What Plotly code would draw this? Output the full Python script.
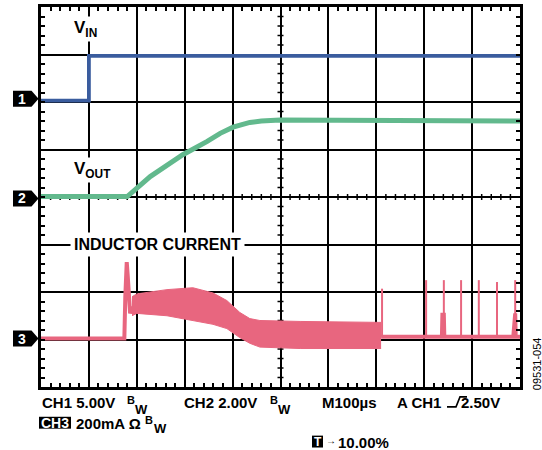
import plotly.graph_objects as go

# ---------------- data (time in divisions, amplitude in divisions) ----------------
VIN_t = [0, 1.0, 1.0, 10]
VIN_v = [6.03, 6.03, 6.97, 6.97]

VOUT_t = [0, 1.80, 2.28, 2.96, 3.47, 3.74, 4.01, 4.20, 4.36, 4.60, 4.99, 10]
VOUT_v = [4.01, 4.01, 4.43, 4.89, 5.17, 5.34, 5.47, 5.53, 5.57, 5.60, 5.62, 5.60]

IL_pre_t = [0, 1.74, 1.76, 1.79, 1.81, 1.83, 1.86, 1.90]
IL_pre_v = [1.02, 1.02, 1.90, 2.63, 2.35, 1.85, 1.55, 1.70]

IL_band_t = [1.90, 2.00, 2.63, 3.17, 3.59, 3.88, 4.15, 4.36, 4.57, 5.41, 7.10]
IL_band_hi = [1.90, 1.96, 2.05, 2.09, 1.98, 1.82, 1.57, 1.44, 1.40, 1.38, 1.36]
IL_band_lo = [1.50, 1.55, 1.50, 1.40, 1.32, 1.23, 1.04, 0.92, 0.84, 0.81, 0.81]

IL_post_t = [7.10, 8.37, 8.38, 8.41, 8.42, 9.86, 9.90, 9.91, 10]
IL_post_v = [1.06, 1.06, 1.52, 1.52, 1.06, 1.06, 1.55, 1.06, 1.06]

SPIKE_t = [7.12, 8.04, 8.41, 8.77, 9.14, 9.52, 9.90]
SPIKE_peak = [2.07, 2.25, 2.25, 2.25, 2.25, 2.21, 2.25]
SPIKE_base = 1.06

MARKER_lvl = {"1": 6.07, "2": 3.97, "3": 1.02}

BLUE = "#3A5C9E"
GREEN = "#62B98D"
PINK = "#E8667F"
FONT = "Liberation Sans, Arial, sans-serif"

# plot area in pixels
L, R, T, B = 41, 520, 4, 387
W_PX, H_PX = R - L, B - T


def px(x):
    return (x - L) / W_PX


def py(y):
    return (B - y) / H_PX


fig = go.Figure()

fig.add_trace(go.Scatter(x=VIN_t, y=VIN_v, mode="lines",
                         line=dict(color=BLUE, width=3.8), hoverinfo="skip"))
fig.add_trace(go.Scatter(x=VOUT_t, y=VOUT_v, mode="lines",
                         line=dict(color=GREEN, width=5), hoverinfo="skip"))
fig.add_trace(go.Scatter(x=IL_band_t, y=IL_band_lo, mode="lines",
                         line=dict(color=PINK, width=1), hoverinfo="skip"))
fig.add_trace(go.Scatter(x=IL_band_t, y=IL_band_hi, mode="lines", fill="tonexty",
                         fillcolor=PINK, line=dict(color=PINK, width=1),
                         hoverinfo="skip"))
fig.add_trace(go.Scatter(x=IL_pre_t + [None] + IL_post_t, y=IL_pre_v + [None] + IL_post_v,
                         mode="lines", line=dict(color=PINK, width=4), hoverinfo="skip"))
sx, sy = [], []
for t, p in zip(SPIKE_t, SPIKE_peak):
    sx += [t, t, None]
    sy += [SPIKE_base, p, None]
fig.add_trace(go.Scatter(x=sx, y=sy, mode="lines", line=dict(color=PINK, width=2),
                         hoverinfo="skip"))

axis_common = dict(
    showgrid=True, gridcolor="black", gridwidth=1.6, dtick=1, tick0=0,
    showticklabels=False, zeroline=False, showline=True, linecolor="black",
    linewidth=2.5, mirror="allticks", ticks="inside", ticklen=4, tickwidth=1.5,
    tickcolor="black",
    minor=dict(dtick=0.2, ticks="inside", ticklen=4, tickwidth=1.5, tickcolor="black",
               showgrid=False),
)
fig.update_xaxes(range=[0, 10], **axis_common)
fig.update_yaxes(range=[0, 8], **axis_common)

shapes = []
# centre cross minor ticks
for i in range(51):
    if i % 5:
        x = i * 0.2
        shapes.append(dict(type="line", xref="x", yref="y", ysizemode="pixel", yanchor=4,
                           x0=x, x1=x, y0=-3, y1=3, line=dict(color="black", width=1.5),
                           layer="between"))
for i in range(41):
    if i % 5:
        y = i * 0.2
        shapes.append(dict(type="line", xref="x", yref="y", xsizemode="pixel", xanchor=5,
                           x0=-3, x1=3, y0=y, y1=y, line=dict(color="black", width=1.5),
                           layer="between"))
# channel markers
for k, lvl in MARKER_lvl.items():
    shapes.append(dict(type="path", xref="paper", yref="y", xsizemode="pixel", xanchor=0,
                       ysizemode="pixel", yanchor=lvl,
                       path="M-28,-8 L-9.5,-8 L-2.5,0 L-9.5,8 L-28,8 Z",
                       fillcolor="black", line=dict(width=0)))
# CH3 and T boxes
shapes.append(dict(type="rect", xref="paper", yref="paper", x0=px(39), x1=px(71),
                   y0=py(429), y1=py(417), fillcolor="black", line=dict(width=0)))
shapes.append(dict(type="rect", xref="paper", yref="paper", x0=px(312), x1=px(323),
                   y0=py(448), y1=py(436), fillcolor="black", line=dict(width=0)))
# trigger edge symbol
shapes.append(dict(type="path", xref="paper", yref="paper",
                   path=f"M{px(447)},{py(407)} L{px(456)},{py(407)} L{px(460)},{py(397)} L{px(467)},{py(397)}",
                   line=dict(color="black", width=1.6)))
fig.update_layout(shapes=shapes)

anns = []


def ann(text, x, y, size=15, anchor="left", color="black", weight="bold", **kw):
    d = dict(text=text, xref="paper", yref="paper", x=px(x), y=py(y), xanchor=anchor,
             yanchor="middle", showarrow=False,
             font=dict(family=FONT, size=size, color=color, weight=weight))
    d.update(kw)
    anns.append(d)


for k, lvl in MARKER_lvl.items():
    anns.append(dict(text=k, xref="paper", yref="y", x=0, y=lvl, xshift=-19, xanchor="center",
                     yanchor="middle", showarrow=False,
                     font=dict(family=FONT, size=14, color="white", weight="bold")))

ann("V<sub>IN</sub>", 72, 26, size=17, bgcolor="white", borderpad=1)
ann("V<sub>OUT</sub>", 72, 168, size=17, bgcolor="white", borderpad=1)
ann("INDUCTOR CURRENT", 70, 243, size=16, bgcolor="white", borderpad=3)

ann("CH1 5.00V", 40, 403)
ann("B", 125, 400, size=11)
ann("W", 133, 410, size=13)
ann("CH2 2.00V", 182, 403)
ann("B", 268, 400, size=11)
ann("W", 276, 410, size=13)
ann("M100µs", 320, 403)
ann("A CH1", 395, 403)
ann("2.50V", 502, 403, anchor="right")

ann("CH3", 55, 423.5, size=14, anchor="center", color="white")
ann("200mA Ω", 74, 424)
ann("B", 143, 420, size=11)
ann("W", 152, 429, size=13)

ann("T", 317.5, 442.5, size=12, anchor="center", color="white")
ann("→", 324, 441, size=10)
ann("10.00%", 336, 443)

ann("09531-054", 537, 364, size=11, anchor="center", weight="normal", textangle=-90)

fig.update_layout(
    annotations=anns,
    width=542, height=450,
    margin=dict(l=L, r=542 - R, t=T, b=450 - B),
    paper_bgcolor="white", plot_bgcolor="white",
    showlegend=False,
)

fig.write_html("out.html", config={"displayModeBar": False},
               post_script="document.body.style.margin='0';")
